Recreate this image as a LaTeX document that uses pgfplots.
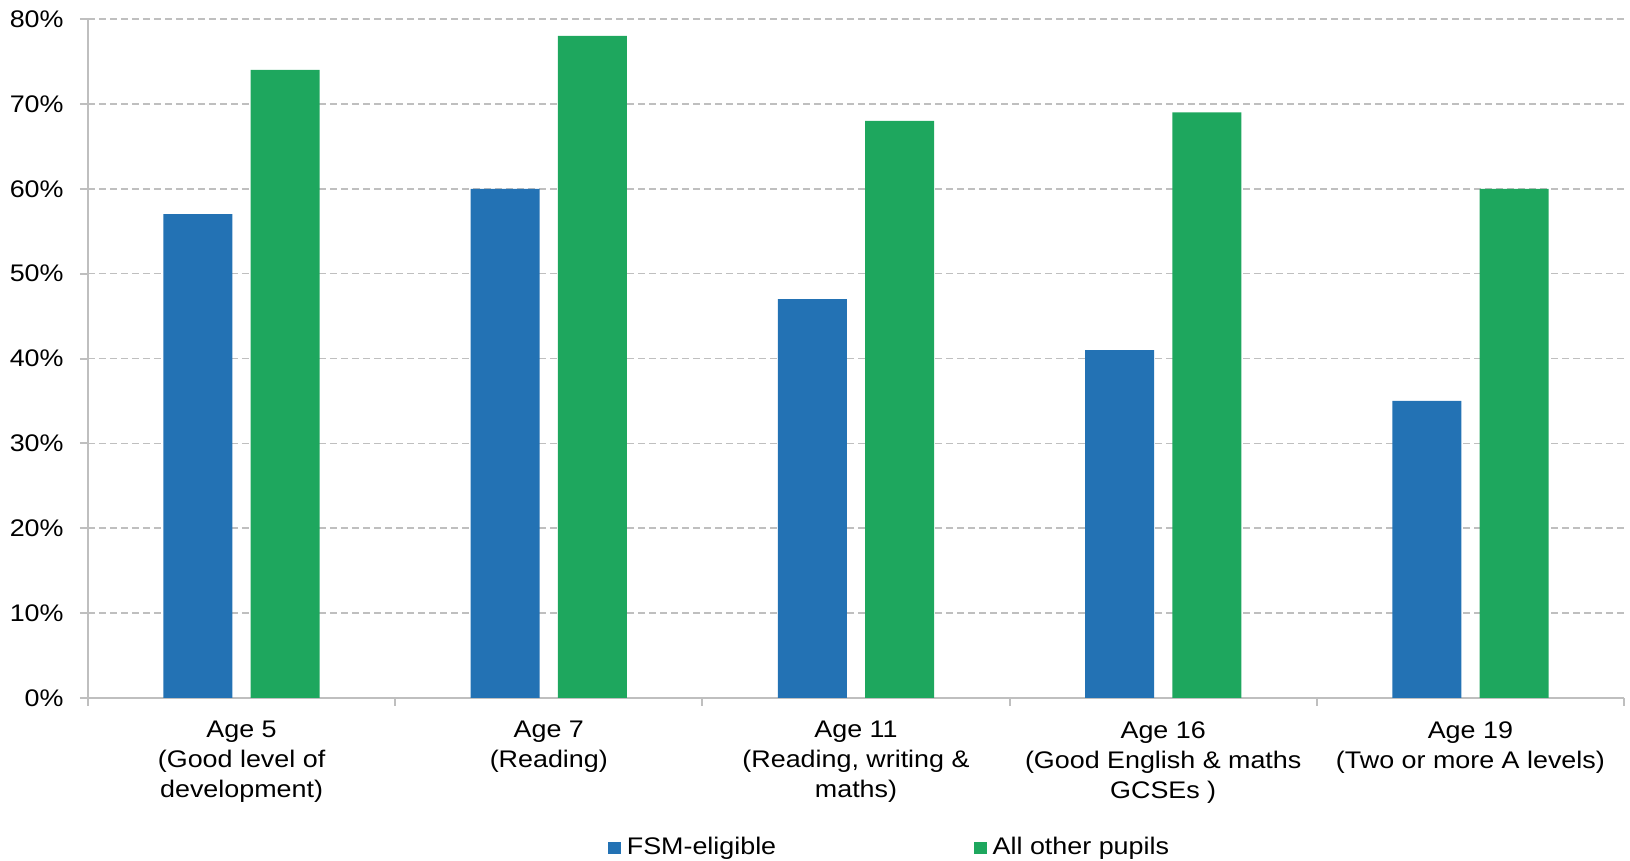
\documentclass[border=0pt]{standalone}
\usepackage{fontspec}
\setmainfont{Liberation Sans}[FakeStretch=1.12]
\usepackage{pgfplots}
\pgfplotsset{compat=1.18}
\definecolor{fsmblue}{RGB}{35,114,180}
\definecolor{othergreen}{RGB}{30,167,94}
\definecolor{gridgray}{RGB}{191,191,191}

\begin{document}
\fontsize{12}{15}\selectfont
\begin{tikzpicture}
    % page size: 1px = 0.5pt
    \useasboundingbox (-44pt,-81.5pt) rectangle (771pt,349pt);
    \begin{axis}[
        at={(0pt,0pt)}, anchor=south west,
        scale only axis,
        width=768pt, height=339.5pt,
        xmin=-0.5, xmax=4.5,
        ymin=0, ymax=80,
        axis x line*=bottom,
        axis y line*=left,
        axis line style={gridgray, line width=1pt},
        tick align=outside,
        xtick={0,...,4},
        major x tick style={draw=none},
        minor xtick={-0.5,0.5,...,4.5},
        minor tick length=4pt,
        minor x tick style={gridgray, line width=1pt},
        major tick length=4pt,
        major y tick style={gridgray, line width=1pt},
        xticklabels={
            {Age 5\\(Good level of\\development)},
            {Age 7\\(Reading)},
            {Age 11\\(Reading, writing \&\\maths)},
            {Age 16\\(Good English \& maths\\GCSEs )},
            {Age 19\\(Two or more A levels)}},
        xticklabel style={align=center, inner sep=0pt, anchor=north, yshift=-7.5pt,
            font=\fontsize{12}{15}\selectfont},
        ytick={0,10,...,80},
        yticklabel={\pgfmathprintnumber{\tick}\%},
        yticklabel style={inner sep=0pt, anchor=east, xshift=-8pt},
        /pgf/number format/assume math mode=true,
        ymajorgrids=true,
        grid style={gridgray, line width=0.75pt, dash pattern=on 3.5pt off 2pt},
        ybar,
        bar width=0.2246,
        legend columns=2,
        legend style={
            at={(0.3385,-0.221)}, anchor=west,
            draw=none, fill=none, inner sep=0pt,
            font=\fontsize{12}{15}\selectfont,
            nodes={inner xsep=3pt, inner ysep=0pt},
            /tikz/every even column/.append style={column sep=96pt}},
        legend image code/.code={\fill[#1] (0pt,-3.125pt) rectangle (6.25pt,3.125pt);},
        ]
    \addplot[fill=fsmblue, draw=none, bar shift=-0.142]
        coordinates {(0,57) (1,60) (2,47) (3,41) (4,35)};
    \addplot[fill=othergreen, draw=none, bar shift=0.142]
        coordinates {(0,74) (1,78) (2,68) (3,69) (4,60)};
    \legend{FSM-eligible, All other pupils}
    \end{axis}
\end{tikzpicture}
\end{document}
